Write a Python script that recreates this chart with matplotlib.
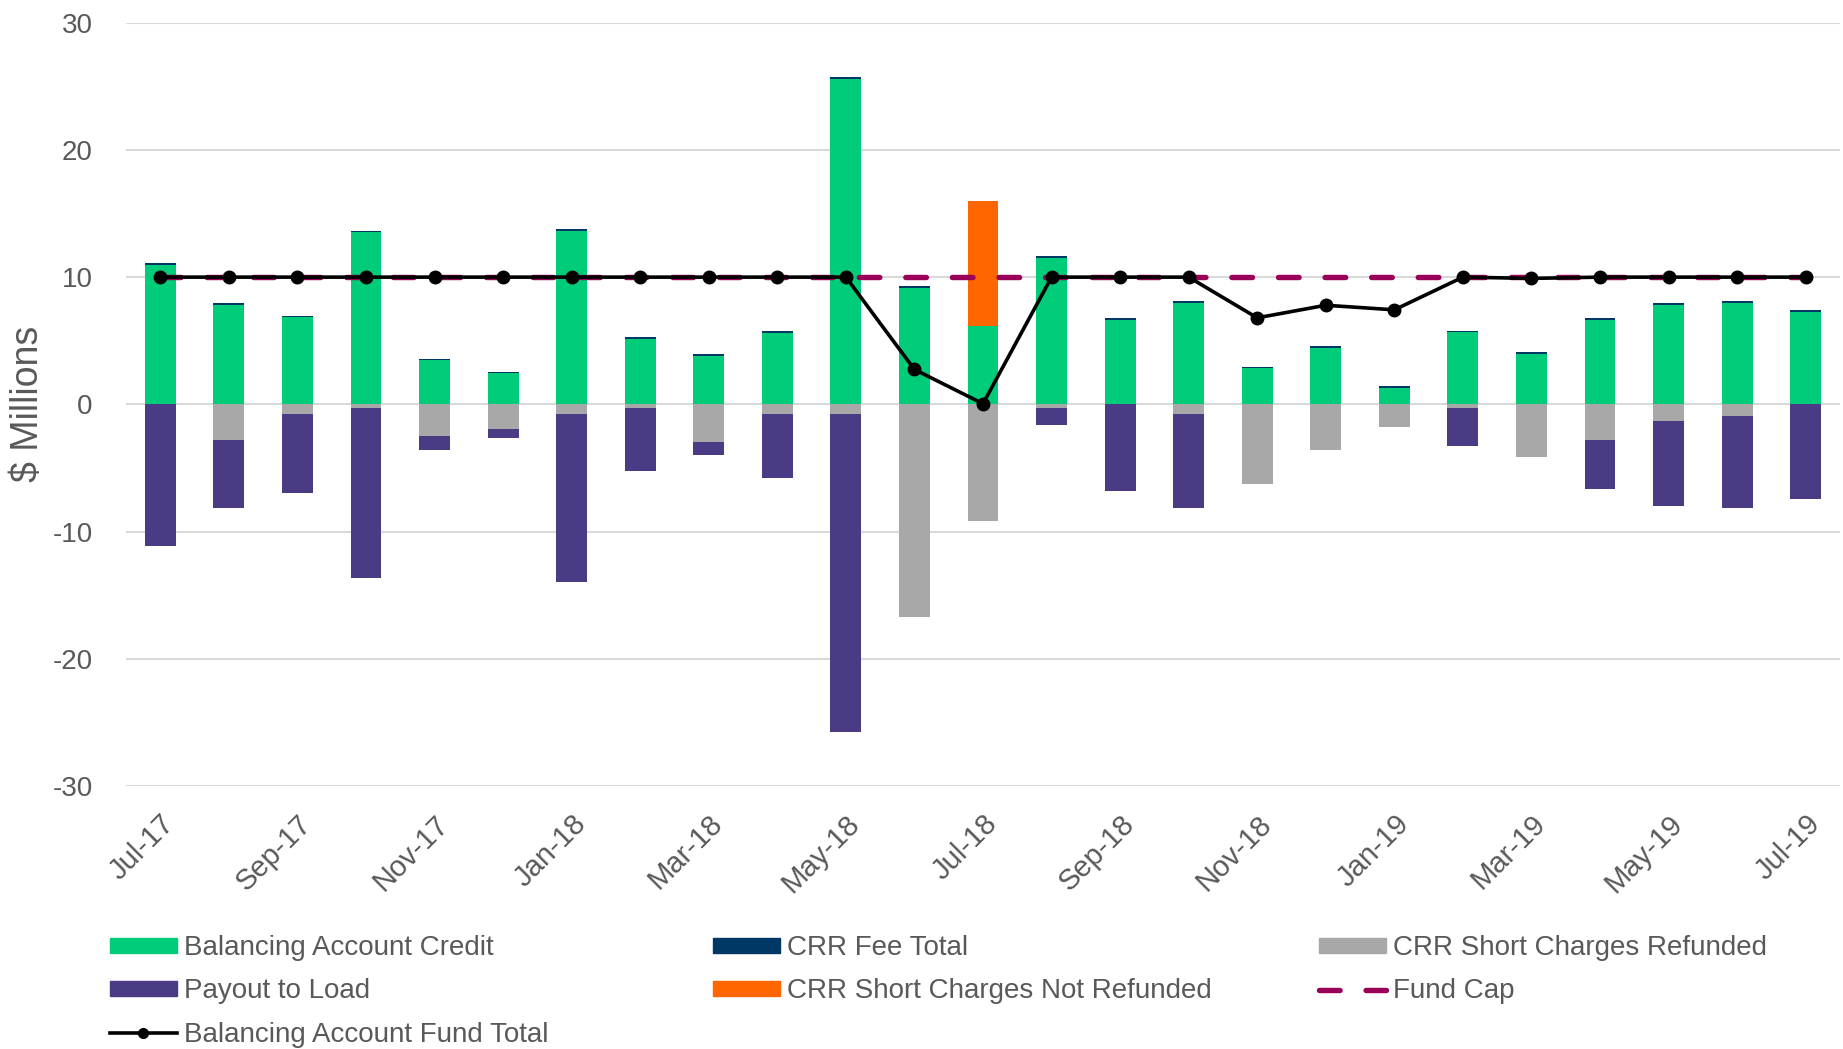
import matplotlib
matplotlib.use("Agg")
import matplotlib.pyplot as plt
import numpy as np
from matplotlib.patches import Patch
from matplotlib.lines import Line2D

months = ["Jul-17", "Aug-17", "Sep-17", "Oct-17", "Nov-17", "Dec-17", "Jan-18", "Feb-18",
          "Mar-18", "Apr-18", "May-18", "Jun-18", "Jul-18", "Aug-18", "Sep-18", "Oct-18",
          "Nov-18", "Dec-18", "Jan-19", "Feb-19", "Mar-19", "Apr-19", "May-19", "Jun-19", "Jul-19"]

balancing_credit = [10.99, 7.79, 6.84, 13.51, 3.45, 2.44, 13.65, 5.13, 3.81, 5.63, 25.59, 9.16,
                    6.14, 11.52, 6.63, 7.98, 2.83, 4.45, 1.25, 5.66, 3.95, 6.63, 7.79, 7.98, 7.28]
crr_fee_total = [0.13, 0.16, 0.12, 0.12, 0.15, 0.14, 0.15, 0.14, 0.14, 0.14, 0.14, 0.14,
                 0.0, 0.14, 0.16, 0.14, 0.14, 0.14, 0.17, 0.12, 0.14, 0.16, 0.16, 0.13, 0.16]
crr_not_refunded = [0, 0, 0, 0, 0, 0, 0, 0, 0, 0, 0, 0,
                    9.83, 0, 0, 0, 0, 0, 0, 0, 0, 0, 0, 0, 0]
crr_refunded = [0, -2.8, -0.76, -0.27, -2.46, -1.94, -0.76, -0.27, -2.96, -0.76, -0.76, -16.68,
                -9.14, -0.27, 0, -0.76, -6.29, -3.62, -1.76, -0.27, -4.12, -2.80, -1.29, -0.94, 0]
payout_to_load = [-11.13, -5.32, -6.21, -13.4, -1.15, -0.68, -13.22, -4.99, -1.0, -5.03, -24.96, 0,
                  0, -1.33, -6.79, -7.36, 0, 0, 0, -3.03, 0, -3.83, -6.68, -7.18, -7.46]
fund_cap = [10] * 25
fund_total = [10, 10, 10, 10, 10, 10, 10, 10, 10, 10, 10, 2.74,
              0.05, 10, 10, 10, 6.8, 7.79, 7.43, 10, 9.9, 10, 10, 10, 10]

tick_labels = ["Jul-17", "Sep-17", "Nov-17", "Jan-18", "Mar-18", "May-18", "Jul-18",
               "Sep-18", "Nov-18", "Jan-19", "Mar-19", "May-19", "Jul-19"]

C_GREEN = "#00CC7A"
C_NAVY = "#003865"
C_GREY = "#A8A8A8"
C_PURPLE = "#4B3B84"
C_ORANGE = "#FF6600"
C_CAP = "#990057"
C_TEXT = "#595959"

plt.rcParams["font.family"] = ["Liberation Sans", "DejaVu Sans"]
plt.rcParams["axes.unicode_minus"] = False

fig = plt.figure(figsize=(18.43, 10.49), dpi=100)
ax = fig.add_axes([126 / 1843, 1 - 786 / 1049, (1840 - 126) / 1843, (786 - 22.7) / 1049])

x = np.arange(len(months))
w = 0.45
credit = np.array(balancing_credit)
fee = np.array(crr_fee_total)
notref = np.array(crr_not_refunded)
ref = np.array(crr_refunded)
pay = np.array(payout_to_load)

ax.bar(x, credit, w, color=C_GREEN, zorder=2)
ax.bar(x, fee, w, bottom=credit, color=C_NAVY, zorder=2)
ax.bar(x, notref, w, bottom=credit + fee, color=C_ORANGE, zorder=2)
ax.bar(x, ref, w, color=C_GREY, zorder=2)
ax.bar(x, pay, w, bottom=ref, color=C_PURPLE, zorder=2)

CAP_DASH = (3.8, 4.8)
ax.plot(x, fund_cap, color=C_CAP, lw=3.9, dashes=CAP_DASH, dash_capstyle="round", zorder=3)
ax.plot(x, fund_total, color="black", lw=2.6, marker="o", markersize=9, zorder=4)

ax.set_xlim(-0.5, len(months) - 0.5)
ax.set_ylim(-30, 30)
ax.set_yticks([-30, -20, -10, 0, 10, 20, 30])
ax.grid(axis="y", color="#D9D9D9", lw=1.5, zorder=0)
ax.set_axisbelow(True)
for s in ax.spines.values():
    s.set_visible(False)
ax.tick_params(axis="both", length=0, labelsize=20, colors=C_TEXT)
ax.tick_params(axis="y", pad=24)

tick_pos = [months.index(m) for m in tick_labels]
ax.set_xticks(tick_pos)
ax.set_xticklabels(tick_labels, rotation=45, ha="right", va="top", rotation_mode="anchor")
ax.tick_params(axis="x", pad=17, labelsize=21)

ax.text((28 - 126) / 1714, 0.5, "$ Millions", rotation=90, transform=ax.transAxes,
        ha="center", va="center", fontsize=27, color=C_TEXT)

# legend (three columns placed like the reference)
h_credit = Patch(color=C_GREEN)
h_fee = Patch(color=C_NAVY)
h_ref = Patch(color=C_GREY)
h_pay = Patch(color=C_PURPLE)
h_not = Patch(color=C_ORANGE)
h_cap = Line2D([], [], color=C_CAP, lw=3.9, dashes=CAP_DASH, dash_capstyle="round")
h_tot = Line2D([0, 1, 2], [0, 0, 0], color="black", lw=2.6, marker="o", markersize=7, markevery=[1])

common = dict(frameon=False, fontsize=20, labelcolor=C_TEXT, handlelength=2.4,
              handleheight=0.46, handletextpad=0.28, labelspacing=0.63,
              borderpad=0, borderaxespad=0, loc="upper left")
top = 1 - 935 / 1049
fig.legend([h_credit, h_pay, h_tot],
           ["Balancing Account Credit", "Payout to Load", "Balancing Account Fund Total"],
           bbox_to_anchor=(110 / 1843, top), **common)
fig.legend([h_fee, h_not], ["CRR Fee Total", "CRR Short Charges Not Refunded"],
           bbox_to_anchor=(713 / 1843, top), **common)
fig.legend([h_ref, h_cap], ["CRR Short Charges Refunded", "Fund Cap"],
           bbox_to_anchor=(1319 / 1843, top), **common)

fig.savefig("out.png", dpi=100, facecolor="white")
